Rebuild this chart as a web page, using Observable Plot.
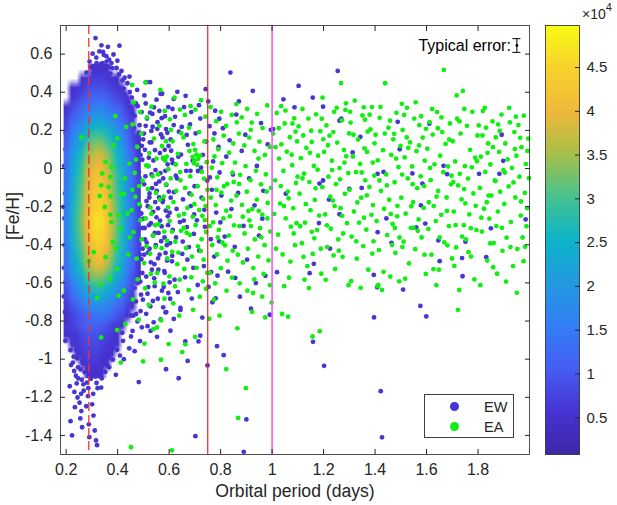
<!DOCTYPE html>
<html><head><meta charset="utf-8">
<script src="https://cdn.jsdelivr.net/npm/d3@7"></script>
<script src="https://cdn.jsdelivr.net/npm/@observablehq/plot@0.6"></script>
<style>
body{margin:0;background:#fff;}
#wrap{position:relative;width:617px;height:505px;font-family:"Liberation Sans",Arial,sans-serif;color:#262626;overflow:hidden;}
#wrap svg{position:absolute;top:0;}
.legend{position:absolute;left:424px;top:394px;width:90px;height:44px;border:1px solid #404040;background:#fff;box-sizing:border-box;}
.legend .row{position:absolute;left:0;height:20px;width:100%;}
.legend .mk{position:absolute;left:25px;top:5px;width:9px;height:9px;border-radius:50%;}
.legend .lb{position:absolute;left:59px;top:1px;font-size:14.5px;line-height:18px;}
.cbexp{position:absolute;left:582px;top:3px;font-size:14px;}
.cbexp sup{font-size:11px;position:relative;top:-2px;}
</style></head><body><div id="wrap"></div>
<script>
// ---- axes / ticks ----
const xTicks = [0.2,0.4,0.6,0.8,1,1.2,1.4,1.6,1.8];
const yTicks = [0.6,0.4,0.2,0,-0.2,-0.4,-0.6,-0.8,-1,-1.2,-1.4];
const cbTicks = [0.5,1,1.5,2,2.5,3,3.5,4,4.5];
const cbDomain = [0.08,4.98];           // density, x10^4
const xDomain = [0.178,2.0];
const yDomain = [-1.5,0.75];
// reference lines (days)
const dashedPeriod = [0.288];
const redPeriod = [0.75];
const magentaPeriod = [1.0];
// typical error bar
const errPeriod = [1.951];
const errFeH = [0.645];
const errLow = [0.609];
const errHigh = [0.681];
// legend
const legendLabels = ["EW","EA"];
const legendColors = ["#4636d2","#11ee11"];
// parula colormap stops
const parula = ["#3e26a8","#4733d3","#465ef2","#337ef6","#229ae0","#0db4ca","#45c38f","#a6bf4a","#f0b83a","#f7d22c","#f9fb15"];

// ---- dense EW core: density (x10^4) on a grid, period 0.19-0.49 (15 cols), [Fe/H] 0.55 to -1.1 (33 rows) ----
const _ = NaN;
const coreCols = 15, coreRows = 33;
const coreExtent = {x1:0.19, x2:0.49, y1:0.55, y2:-1.1};
const coreDensity = [
[_,_,_,_,_,.5,.5,.5,.5,_,_,_,_,_,_],
[_,_,_,.5,.6,.7,.7,.7,.6,.5,.5,_,_,_,_],
[_,.5,.6,.6,.8,.9,.9,.9,.8,.7,.6,.5,_,_,_],
[_,.6,.7,.9,1.0,1.2,1.2,1.2,1.1,.9,.8,.7,.5,_,_],
[.5,.8,1.0,1.2,1.4,1.5,1.6,1.6,1.4,1.2,1.1,.9,.6,.5,_],
[.7,1.0,1.2,1.4,1.7,1.9,2.0,1.9,1.8,1.6,1.3,1.1,.8,.6,_],
[.8,1.3,1.6,1.8,2.2,2.4,2.5,2.4,2.3,2.0,1.7,1.4,1.0,.7,_],
[1.0,1.5,1.9,2.2,2.6,2.9,3.0,2.9,2.7,2.3,2.0,1.7,1.2,.8,.5],
[1.1,1.7,2.1,2.4,3.0,3.3,3.4,3.3,3.1,2.7,2.2,1.9,1.3,.9,.5],
[1.3,1.9,2.4,2.7,3.3,3.6,3.8,3.7,3.4,3.0,2.5,2.2,1.5,1.1,.6],
[1.3,2.0,2.5,2.9,3.5,3.8,4.0,3.9,3.6,3.1,2.6,2.3,1.6,1.1,.6],
[1.4,2.1,2.6,3.0,3.7,4.0,4.2,4.1,3.8,3.3,2.8,2.4,1.7,1.2,.7],
[1.4,2.2,2.7,3.1,3.7,4.1,4.3,4.2,3.9,3.4,2.8,2.5,1.7,1.2,.7],
[1.5,2.2,2.7,3.2,3.8,4.2,4.4,4.3,4.0,3.4,2.9,2.5,1.8,1.2,.7],
[1.5,2.3,2.8,3.2,3.9,4.3,4.5,4.4,4.1,3.5,3.0,2.6,1.8,1.3,.7],
[1.5,2.3,2.9,3.3,4.0,4.4,4.6,4.5,4.1,3.6,3.0,2.6,1.8,1.3,.7],
[1.6,2.4,2.9,3.4,4.1,4.5,4.7,4.6,4.2,3.7,3.1,2.7,1.9,1.3,.8],
[1.5,2.3,2.9,3.3,4.0,4.4,4.6,4.5,4.1,3.6,3.0,2.6,1.8,1.3,.7],
[1.5,2.3,2.8,3.2,3.9,4.3,4.5,4.4,4.1,3.5,3.0,2.6,1.8,1.3,.7],
[1.4,2.2,2.7,3.1,3.7,4.1,4.3,4.2,3.9,3.4,2.8,2.5,1.7,1.2,.7],
[1.4,2.1,2.5,3.0,3.6,3.9,4.1,4.0,3.7,3.2,2.7,2.3,1.6,1.2,.6],
[1.3,1.9,2.4,2.7,3.3,3.6,3.8,3.7,3.4,3.0,2.5,2.2,1.5,1.1,.6],
[1.1,1.7,2.0,2.4,2.9,3.2,3.3,3.2,3.0,2.6,2.2,1.9,1.3,.9,.5],
[.9,1.4,1.7,2.0,2.4,2.7,2.8,2.7,2.5,2.2,1.8,1.6,1.1,.8,_],
[.8,1.2,1.4,1.7,2.0,2.2,2.3,2.2,2.1,1.8,1.5,1.3,.9,.6,_],
[.6,.9,1.1,1.3,1.6,1.7,1.8,1.7,1.6,1.4,1.2,1.0,.7,.5,_],
[.5,.7,.9,1.0,1.2,1.3,1.4,1.4,1.3,1.1,.9,.8,.5,_,_],
[.6,.7,.8,1.0,1.1,1.1,1.1,1.0,.9,.7,.6,.5,_,_,_],
[.5,.6,.6,.8,.9,.9,.9,.8,.7,.6,.5,_,_,_,_],
[_,.5,.6,.7,.8,.8,.8,.7,.6,.5,.5,_,_,_,_],
[_,_,.5,.6,.7,.7,.7,.6,.5,.5,_,_,_,_,_],
[_,_,_,.5,.6,.6,.6,.5,.5,_,_,_,_,_,_],
[_,_,_,_,.5,.5,.5,.5,_,_,_,_,_,_,_]
];

// ---- EW (scattered, low density) [period, FeH] ----
const ewPoints = [
[.190,-.202],[.197,.100],[.210,.149],[.197,-.597],[.197,-.904],[.217,-.953],[.204,-.451],[.201,-.312],[.208,-.052],[.213,.038],
[.199,-.703],[.206,-.805],[.221,-.221],[.215,-.638],[.194,-.402],[.223,.082],[.209,-.524],[.218,-.872],[.226,-1.018],[.211,-.758],
[.193,-.262],[.196,-.131],[.191,-.521],[.195,-.753],[.192,.013],[.198,.187],[.203,-.847],[.191,-.671],
[.223,-1.400],[.217,-1.325],[.232,-1.172],[.252,-1.228],[.259,-1.272],[.281,-1.123],[.301,-1.237],[.288,-1.342],[.311,-1.374],[.316,-1.426],
[.320,-1.451],[.290,-1.409],[.336,-1.149],[.333,-1.053],[.246,-1.043],[.238,-1.087],[.263,-1.012],[.272,-1.068],[.244,-1.201],[.255,-1.311],
[.268,-1.165],[.283,-1.052],[.296,-1.103],[.311,-1.004],[.326,-1.082],[.305,-1.182],[.278,-1.247],[.262,-1.357],[.234,-1.252],[.229,-.987],
[.252,-.962],[.274,-.983],[.299,-.961],[.318,-1.125],[.347,-1.021],[.214,-1.142],[.261,-1.108],[.285,-1.194],[.241,-1.127],[.306,-1.296],
[.231,-1.062],[.247,-1.101],[.256,-1.054],[.267,-1.132],[.276,-1.021],[.289,-1.071],[.302,-1.048],[.314,-1.091],[.329,-1.012],[.338,-1.101],
[.352,-1.067],[.367,-1.043],[.381,-1.002],[.393,-1.082],[.219,-1.031],[.286,-1.152],[.258,-1.182],[.322,-1.152],[.409,-.981],[.243,-.996],
[.227,-.912],[.243,-.861],[.258,-.934],[.266,-.885],[.281,-.947],[.294,-.902],[.309,-.935],[.323,-.883],[.337,-.954],[.352,-.912],
[.367,-.988],[.381,-.942],[.398,-.951],[.421,-.904],[.424,-1.000],[.362,-.853],[.378,-.803],[.393,-.872],[.408,-.821],[.372,-.751],
[.389,-.702],[.402,-.768],[.417,-.733],[.236,-.822],[.248,-.773],[.239,-.951],[.273,-.976],[.346,-.973],[.359,-1.031],[.343,-.842],
[.226,.227],[.233,.163],[.219,.121],[.243,.247],[.229,-.116],[.231,-.367],[.224,-.553],[.237,-.691],
[.245,.324],[.314,.684],[.329,.614],[.346,.596],[.407,.644],[.318,.553],[.294,.470],[.399,.565],[.380,.526],[.338,.492],
[.352,.507],[.362,.478],[.331,.458],[.347,.442],[.371,.453],[.324,.431],[.309,.498],[.289,.412],[.276,.362],[.262,.388],
[.283,.302],[.268,.289],[.301,.452],[.356,.418],[.379,.402],[.392,.436],[.411,.381],[.423,.417],[.437,.353],[.448,.322],
[.402,.332],[.388,.307],[.419,.292],[.436,.268],[.447,.401],[.391,.471],[.366,.532],[.341,.552],[.357,.561],[.372,.498],
[.258,.252],[.251,.203],[.298,.348],[.313,.396],[.336,.371],[.384,.353],[.419,.462],[.296,.532],[.286,.455],[.324,.348],
[.268,.452],[.279,.503],[.291,.561],[.303,.602],[.317,.582],[.327,.521],[.334,.547],[.343,.612],[.356,.589],[.367,.571],
[.376,.553],[.384,.598],[.396,.527],[.405,.493],[.415,.512],[.427,.476],[.438,.447],[.446,.482],[.337,.646],[.362,.638],
[.402,.214],[.406,-.053],[.409,-.387],[.413,.128],[.416,-.612],[.419,-.174],[.423,.302],[.426,-.455],[.429,.036],[.432,-.283],
[.435,-.731],[.438,.187],[.441,-.098],[.444,-.546],[.447,.253],[.451,-.224],[.453,-.671],[.456,.071],[.459,-.366],[.462,.163],
[.465,-.023],[.468,-.508],[.471,.341],[.474,-.142],[.477,-.802],[.479,.011],[.482,-.317],[.485,.227],[.488,-.593],[.491,-.067],
[.494,.119],[.497,-.421],[.499,-.263],[.404,-.511],[.411,.402],[.418,-.862],[.427,-.191],[.434,.084],[.443,-.392],[.452,-.881],
[.458,.292],[.466,-.627],[.473,-.351],[.481,.152],[.489,-.748],[.496,.046],[.407,-.262],[.415,.045],[.422,-.317],[.431,-.627],
[.439,.352],[.448,-.152],[.457,-.451],[.464,.214],[.472,-.052],[.478,-.573],[.486,-.197],[.493,.296],[.498,-.688],[.445,-.943],
[.461,-.772],[.476,.412],[.487,-.905],[.401,-.143],[.412,-.448],[.425,-.521],[.436,-.331],[.449,-.054],[.463,-.287],[.475,.102],
[.484,-.398],[.492,-.476],[.466,-.958],[.428,.389],[.455,.372],[.482,-.017],[.494,-.833],[.421,-.702],[.446,.138],[.469,-.412],
[.443,.012],[.447,-.283],[.452,.118],[.455,-.512],[.458,-.061],[.462,-.197],[.466,.276],[.469,-.338],[.473,.043],[.476,-.601],
[.479,-.124],[.483,.187],[.486,-.452],[.489,.071],[.492,-.236],[.496,-.548],[.499,.153],[.503,-.083],[.506,-.372],[.509,.224],
[.512,-.171],[.516,-.657],[.519,.012],[.522,-.297],[.525,.137],[.529,-.492],[.532,-.031],[.535,.286],[.538,-.227],[.542,-.576],
[.545,.096],[.548,-.402],[.552,-.117],[.555,.243],[.558,-.531],[.562,-.068],[.565,-.273],[.568,.179],[.572,-.641],[.575,-.176],
[.578,.052],[.582,-.362],[.585,-.012],[.588,.207],[.592,-.483],[.595,-.251],[.598,.118],[.602,-.597],[.606,-.153],[.611,.047],
[.614,-.322],[.618,.228],[.447,-.617],[.451,-.771],[.459,.198],[.464,-.412],[.471,-.697],[.478,.327],[.484,-.046],[.491,-.662],
[.497,-.312],[.504,.383],[.511,-.762],[.518,-.441],[.524,-.131],[.531,.197],[.537,-.695],[.544,-.338],[.551,.361],[.557,-.209],
[.563,-.452],[.571,.264],[.577,-.728],[.583,-.547],[.589,-.086],[.597,.322],[.604,-.683],[.612,-.458],[.458,-.852],[.528,-.852],
[.502,.183],[.505,-.312],[.508,-.041],[.511,-.567],[.514,.262],[.517,-.198],[.521,.057],[.524,-.421],[.527,-.723],[.531,.137],
[.534,-.103],[.537,-.352],[.541,.321],[.544,-.617],[.547,-.008],[.551,-.256],[.554,.208],[.557,-.471],[.561,-.152],[.564,.081],
[.567,-.792],[.571,-.304],[.574,.163],[.577,-.052],[.581,-.538],[.584,.274],[.587,-.221],[.591,-.402],[.594,.022],[.597,-.653],
[.503,-.452],[.509,.341],[.516,-.827],[.523,-.152],[.529,-.287],[.536,.219],[.543,-.502],[.549,-.081],[.556,-.683],[.562,.302],
[.569,-.381],[.576,-.167],[.583,.098],[.589,-.753],[.596,-.297],[.506,.098],[.513,-.389],[.519,-.622],[.526,.293],[.533,-.531],
[.539,.042],[.546,-.176],[.553,-.883],[.559,-.338],[.566,-.024],[.573,.392],[.579,-.621],[.586,-.443],[.593,.187],[.599,-.121],
[.540,-.807],[.586,-.755],[.618,-.789],[.605,-.851],[.588,-1.053],[.526,.453],[.567,.391],[.511,.453],[.482,-1.120],[.472,-.763],
[.602,-.232],[.606,.152],[.611,-.487],[.614,.028],[.619,-.124],[.623,.271],[.627,-.362],[.631,-.052],[.634,-.648],[.638,.193],
[.642,-.281],[.646,.073],[.651,-.448],[.654,-.162],[.658,.322],[.662,-.571],[.666,-.012],[.669,-.307],[.673,.124],[.677,-.412],
[.681,.231],[.684,-.197],[.688,-.682],[.692,.042],[.696,-.343],[.699,-.093],[.604,-.391],[.613,.312],[.621,-.583],[.629,-.212],
[.636,.061],[.644,-.731],[.649,.218],[.657,-.273],[.664,.381],[.671,-.478],[.679,-.131],[.686,.296],[.694,-.521],[.618,.365],
[.644,-.742],[.663,-.907],[.672,-1.009],[.637,-1.100],[.714,-.907],[.721,-.877],[.702,-1.404],[.608,.093],[.626,-.038],
[.653,-.383],[.668,.176],[.683,-.012],[.697,-.241],[.632,.402],
[.703,.184],[.708,-.272],[.712,-.013],[.717,-.431],[.721,.262],[.726,-.153],[.731,.071],[.735,-.512],[.739,-.306],[.744,.141],
[.748,-.063],[.753,-.621],[.757,.222],[.762,-.371],[.766,-.112],[.771,.037],[.775,-.462],[.779,.303],[.783,-.231],[.788,-.562],
[.792,.113],[.796,-.021],[.742,.416],[.749,-1.033],[.786,-.932],[.812,-.979],[.729,-.782],[.768,-.702],[.794,-.382],[.716,.332],
[.737,-.217],[.758,-.047],[.776,.184],[.799,-.283],[.711,-.611],[.752,.352],[.781,-.681],[.724,.004],[.763,-.543],[.795,.261],
[.803,-.142],[.809,.211],[.816,-.357],[.822,.062],[.829,-.541],[.835,.148],[.842,-.213],[.838,.503],[.848,-.032],[.855,-.411],
[.861,.283],[.868,-.128],[.875,-.672],[.882,.092],[.889,-.301],[.896,.177],[.903,-.478],[.911,-.052],[.918,-.735],[.925,.407],
[.932,-.193],[.941,.013],[.949,-.352],[.957,.238],[.966,-.117],[.974,-.563],[.983,.127],[.991,-.767],[.857,-.574],[.900,-1.316],
[.890,-1.486],[.995,.203],[.871,.352],[.937,-.601],[.962,-.263],
[1.044,.363],[1.103,.433],[1.087,.321],[1.019,-.544],[1.255,.512],[1.158,.372],[1.198,.324],[1.269,.261],[1.262,.251],[1.343,.166],
[1.488,.245],[1.611,.235],[1.892,.177],[1.313,.084],[1.496,.101],[1.898,.040],[1.666,.014],[1.680,-.030],[1.410,-.028],[1.433,-.018],
[1.545,-.026],[1.584,-.079],[1.804,-.028],[1.883,-.028],[1.198,-.063],[1.184,-.079],[1.348,-.102],[1.300,-.107],[1.221,-.163],[1.578,-.193],
[1.182,-.286],[1.262,-.240],[1.444,-.262],[1.595,-.289],[1.560,-.309],[1.410,-.334],[1.464,-.390],[1.646,-.377],[1.751,-.384],[1.985,-.267],
[1.738,-.470],[1.832,-.465],[1.225,-.420],[1.850,-.314],[1.162,-.500],[1.146,-.549],[1.395,-.558],[1.408,-.623],[1.509,-.635],[1.651,-.486],
[1.740,-.565],[1.576,-.721],[1.599,-.776],[1.396,-.781],[1.159,-.909],[1.202,-1.035],[1.422,-1.168],[1.427,-1.410],[1.004,.207],[1.053,-.132]
];

// ---- EA [period, FeH] ----
const eaPoints = [
[.259,.163],[.391,.275],[.398,.158],[.385,.123],[.353,.035],[.376,.008],[.446,.026],[.340,-.026],[.372,-.044],[.336,-.088],
[.365,-.097],[.330,-.144],[.424,-.132],[.372,-.146],[.417,-.135],[.350,-.202],[.372,-.242],[.376,-.281],[.404,-.246],[.411,-.316],
[.381,-.386],[.307,-.439],[.353,-.465],[.288,-.486],[.398,-.526],[.372,-.579],[.333,-.609],[.424,-.641],[.320,-.679],[.404,-.667],
[.398,-.847],[.430,-.816],[.336,-.886],[.412,-1.018],[.433,.218],[.441,-.452],[.447,-.361],[.393,-.419],[.428,-.052],[.438,-.236],
[.456,.438],[.508,.451],[.458,.231],[.476,.114],[.469,-.149],[.504,-.918],[.452,-1.462],[.499,-1.012],[.463,.347],[.487,.296],
[.492,.183],[.514,.268],[.531,.324],[.471,.047],[.523,.081],[.541,.157],[.466,-.023],[.497,-.064],[.518,-.107],[.536,-.041],
[.454,-.218],[.484,-.187],[.509,-.262],[.527,-.205],[.546,-.297],[.461,-.334],[.493,-.372],[.512,-.408],[.538,-.351],[.474,-.473],
[.503,-.496],[.529,-.553],[.478,-.581],[.507,-.628],[.544,-.598],[.459,-.687],[.521,-.716],[.482,-.793],[.539,-.842],[.511,.016],
[.549,-.128],[.457,-.112],[.526,-.447],[.489,-.271],[.551,.052],
[.483,-.092],[.517,.012],[.547,-.412],[.579,-.148],[.611,-.331],[.644,-.062],[.668,-.337],[.698,-.187],[.729,-.248],[.758,-.302],
[.784,-.112],[.817,-.403],[.851,-.071],[.886,-.253],[.918,-.302],[.948,-.222],[.979,-.121],[.701,.098],[.588,.143],[.531,-.238],
[.566,.412],[.553,-.834],[.611,-1.478],[.562,.224],[.583,.302],[.603,.258],[.621,.371],[.642,.309],[.572,.118],[.591,.062],
[.585,.041],[.597,-.004],[.576,.057],[.613,.143],[.634,.077],[.647,.186],[.557,-.031],[.588,-.083],[.606,-.052],[.627,-.118],
[.643,-.019],[.564,-.163],[.596,-.204],[.617,-.176],[.638,-.247],[.559,-.292],[.581,-.331],[.602,-.276],[.624,-.384],[.646,-.327],
[.571,-.418],[.593,-.472],[.612,-.437],[.632,-.502],[.554,-.548],[.578,-.604],[.601,-.566],[.623,-.618],[.641,-.583],[.582,-.683],
[.616,-.707],[.569,-.796],[.639,-.772],[.598,-.921],[.651,-.963],[.568,-1.003],[.626,.021],[.592,-.379],[.636,-.441],[.607,.203],
[.661,.281],[.683,.327],[.702,.309],[.724,.358],[.741,.272],[.656,.163],[.677,.214],[.694,.128],[.716,.191],[.737,.142],
[.691,.061],[.699,.043],[.706,.072],[.713,.051],[.696,.028],[.721,.068],[.709,.019],[.667,.024],[.682,-.041],[.727,-.018],
[.746,.033],[.662,-.102],[.687,-.138],[.711,-.093],[.732,-.161],[.749,-.112],[.671,-.207],[.692,-.253],[.717,-.218],[.739,-.271],
[.657,-.312],[.681,-.348],[.703,-.297],[.726,-.371],[.744,-.333],[.666,-.417],[.689,-.462],[.712,-.408],[.734,-.478],[.659,-.527],
[.686,-.571],[.707,-.521],[.731,-.592],[.748,-.548],[.676,-.638],[.719,-.672],[.743,-.631],[.693,-.741],[.701,-.883],[.663,-.922],
[.736,-.053],[.679,.092],[.723,-.433],[.658,-.238],[.742,-.197],
[.761,.322],[.783,.248],[.802,.297],[.821,.223],[.843,.281],[.772,.152],[.791,.101],[.812,.172],[.833,.083],[.849,.131],
[.766,.004],[.787,-.047],[.806,.028],[.826,-.081],[.846,-.022],[.762,-.153],[.781,-.192],[.803,-.127],[.822,-.221],[.841,-.168],
[.771,-.283],[.793,-.322],[.811,-.262],[.832,-.352],[.852,-.298],[.767,-.402],[.786,-.451],[.807,-.388],[.827,-.483],[.847,-.431],
[.758,-.547],[.779,-.602],[.801,-.523],[.823,-.641],[.844,-.572],[.774,-.688],[.796,-.772],[.756,-.788],[.822,-1.052],[.868,-1.308],
[.865,-.838],[.789,-.362],[.813,-.093],[.776,.063],[.836,-.251],
[.861,.338],[.882,.268],[.903,.312],[.921,.241],[.942,.287],[.963,.212],[.981,.331],[.871,.183],[.892,.121],[.911,.162],
[.932,.092],[.951,.141],[.972,.071],[.991,.113],[.856,.031],[.876,-.033],[.897,.012],[.916,-.061],[.937,-.012],[.957,-.083],
[.976,-.031],[.996,-.102],[.862,-.142],[.883,-.191],[.902,-.122],[.923,-.213],[.941,-.163],[.962,-.242],[.983,-.181],[.873,-.302],
[.893,-.341],[.912,-.272],[.933,-.372],[.953,-.313],[.971,-.402],[.993,-.331],[.867,-.452],[.887,-.493],[.906,-.421],[.927,-.522],
[.946,-.462],[.967,-.553],[.986,-.482],[.874,-.602],[.904,-.641],[.931,-.582],[.961,-.672],[.992,-.612],[.922,-.752],[.898,-1.152],
[.973,-.781],[.917,.203],[.947,.052],[.982,-.262],[.908,-.223],[.958,-.361],[.872,-.081],[.926,-.653],[.998,-.703],[.863,.242],
[1.004,.183],[1.012,-.062],[1.018,.291],[1.023,-.347],[1.027,.052],[1.031,-.184],[1.036,.127],[1.041,-.451],[1.044,-.013],[1.049,.236],
[1.053,-.262],[1.057,.088],[1.061,-.121],[1.066,-.573],[1.069,.164],[1.073,-.305],[1.078,.017],[1.082,-.208],[1.086,.263],[1.089,-.402],
[1.093,-.076],[1.097,.142],[1.008,-.238],[1.015,-.421],[1.026,.211],[1.034,-.092],[1.047,-.617],[1.052,.304],[1.064,-.156],[1.071,-.488],
[1.076,.072],[1.084,-.341],[1.091,.193],[1.099,-.043],[1.039,-.763],[1.062,-.777],
[1.103,.221],[1.107,-.132],[1.112,.054],[1.116,-.392],[1.121,.173],[1.124,-.027],[1.128,-.284],[1.133,.108],[1.137,-.512],[1.141,.262],
[1.145,-.071],[1.149,-.219],[1.154,.139],[1.158,-.448],[1.162,.013],[1.166,-.165],[1.171,.284],[1.175,-.323],[1.179,.067],[1.183,-.247],
[1.187,.196],[1.191,-.552],[1.195,-.098],[1.199,.153],[1.109,-.303],[1.118,.312],[1.131,-.187],[1.143,-.627],[1.152,.198],[1.164,-.366],
[1.177,-.006],[1.189,-.421],[1.157,-.881],[1.185,-.853],[1.196,.372],[1.126,-.583],
[1.202,.087],[1.206,-.241],[1.211,.226],[1.214,-.412],[1.219,-.043],[1.223,.172],[1.228,-.316],[1.232,.041],[1.236,-.168],[1.241,.297],
[1.245,-.527],[1.248,-.082],[1.253,.136],[1.257,-.372],[1.262,.002],[1.266,-.208],[1.271,.253],[1.274,-.463],[1.279,.097],[1.283,-.133],
[1.287,.342],[1.291,-.287],[1.296,-.024],[1.299,.184],[1.208,-.584],[1.217,.122],[1.226,-.147],[1.239,-.456],[1.251,.318],[1.264,-.057],
[1.276,-.341],[1.288,.064],[1.297,-.612],[1.243,-.197],[1.268,.448],[1.285,.307],
[1.301,-.112],[1.305,.241],[1.309,-.357],[1.314,.063],[1.318,-.226],[1.321,.356],[1.326,-.019],[1.329,-.473],[1.334,.152],[1.338,-.284],
[1.342,.024],[1.346,-.153],[1.351,.278],[1.354,-.407],[1.359,.106],[1.362,-.062],[1.366,-.321],[1.371,.193],[1.374,-.531],[1.378,-.097],
[1.382,.205],[1.386,-.243],[1.391,.031],[1.394,-.382],[1.398,.132],[1.307,-.591],[1.316,.177],[1.331,-.178],[1.344,-.626],[1.356,.321],
[1.368,-.141],[1.379,.282],[1.389,-.446],[1.397,-.037],[1.361,.256],
[1.402,.177],[1.406,-.276],[1.411,.043],[1.415,-.428],[1.418,.266],[1.423,-.118],[1.427,-.637],[1.431,.096],[1.435,-.212],[1.439,.447],
[1.443,-.031],[1.447,-.349],[1.452,.214],[1.455,-.164],[1.459,-.567],[1.463,.071],[1.468,-.291],[1.471,.153],[1.476,-.072],[1.479,-.443],
[1.483,.292],[1.487,-.196],[1.491,.007],[1.495,-.362],[1.499,.118],[1.409,-.617],[1.421,.323],[1.433,-.542],[1.446,-.089],[1.458,.251],
[1.466,-.401],[1.474,.182],[1.486,-.251],[1.494,-.592],[1.413,-.611],
[1.502,-.153],[1.507,.202],[1.511,-.384],[1.515,.058],[1.519,-.237],[1.524,.318],[1.527,-.052],[1.532,-.498],[1.536,.137],[1.539,-.311],
[1.544,.011],[1.548,-.176],[1.552,.262],[1.556,-.423],[1.561,.091],[1.564,-.103],[1.569,-.267],[1.572,.227],[1.577,-.041],[1.581,-.362],
[1.585,.162],[1.589,-.207],[1.593,.041],[1.597,-.553],[1.504,.339],[1.517,-.578],[1.529,.108],[1.541,-.198],[1.558,.347],[1.566,-.327],
[1.579,.274],[1.591,-.092],[1.546,-.082],[1.513,.281],
[1.603,.104],[1.607,-.317],[1.612,.243],[1.616,-.061],[1.619,-.452],[1.624,.178],[1.628,-.197],[1.631,.022],[1.636,-.276],[1.641,.296],
[1.645,-.118],[1.648,-.531],[1.653,.067],[1.657,-.243],[1.661,.191],[1.665,-.019],[1.669,-.387],[1.674,.129],[1.678,-.152],[1.683,.011],
[1.687,-.302],[1.691,.236],[1.695,-.083],[1.699,-.472],[1.609,-.177],[1.622,.312],[1.638,-.612],[1.651,-.362],[1.667,.517],[1.679,-.223],
[1.688,.152],[1.644,.211],[1.697,-.038],
[1.702,.143],[1.706,-.226],[1.711,.037],[1.715,-.414],[1.719,.261],[1.723,-.089],[1.727,-.637],[1.732,.183],[1.736,-.162],[1.741,.407],
[1.745,-.297],[1.749,.012],[1.753,-.372],[1.757,.224],[1.761,-.053],[1.766,-.241],[1.769,.098],[1.773,-.462],[1.778,.297],[1.782,-.131],
[1.786,-.582],[1.789,.057],[1.794,-.323],[1.798,.173],[1.708,-.511],[1.717,.383],[1.729,-.028],[1.738,-.357],[1.747,.312],[1.763,-.439],
[1.776,.006],[1.791,-.196],[1.722,-.741],
[1.803,.226],[1.807,-.102],[1.811,.062],[1.815,-.331],[1.819,.301],[1.823,-.211],[1.828,-.018],[1.831,.214],[1.836,-.483],[1.839,.131],
[1.844,-.263],[1.848,.021],[1.852,-.142],[1.856,.247],[1.861,-.391],[1.865,-.063],[1.869,.163],[1.874,-.552],[1.877,-.226],[1.882,.087],
[1.886,-.122],[1.891,.283],[1.895,-.432],[1.899,-.009],[1.809,-.612],[1.817,.173],[1.834,-.177],[1.847,-.393],[1.858,.112],[1.871,-.302],
[1.884,.197],[1.893,-.311],[1.826,.318],
[1.902,-.186],[1.906,.131],[1.911,-.363],[1.915,.048],[1.919,-.094],[1.924,.242],[1.928,-.281],[1.932,.003],[1.936,-.512],[1.941,.191],
[1.945,-.152],[1.949,.067],[1.953,-.422],[1.957,.228],[1.961,-.043],[1.966,-.247],[1.969,.112],[1.973,-.362],[1.978,.277],[1.982,-.128],
[1.986,.023],[1.991,-.208],[1.995,.157],[1.998,-.051],[1.909,-.593],[1.921,.318],[1.938,-.073],[1.951,-.652],[1.964,.161],[1.977,-.486],
[1.988,-.303],[1.943,.102],
[1.013,.112],[1.046,-.197],[1.079,.236],[1.095,-.287],[1.122,-.463],[1.147,.082],[1.169,-.104],[1.193,.261],[1.213,-.298],[1.238,.191],
[1.259,-.431],[1.281,.031],[1.303,.297],[1.327,-.382],[1.348,-.021],[1.369,.087],[1.392,-.192],[1.417,-.063],[1.438,.183],[1.461,-.238],
[1.482,.052],[1.506,-.412],[1.523,.163],[1.549,-.311],[1.571,.121],[1.592,-.452],[1.614,.003],[1.639,-.147],[1.658,.268],[1.681,-.403],
[1.704,-.071],[1.728,.247],[1.751,-.183],[1.772,-.313],[1.796,.038],[1.813,-.258],[1.837,.082],[1.859,-.518],[1.878,.231],[1.904,-.021],
[1.926,-.412],[1.947,.272],[1.967,-.173],[1.992,.092],[1.035,.327],[1.154,-.332],[1.272,-.248],[1.388,.322],[1.505,-.032],[1.627,-.528],
[1.746,-.108],[1.868,-.066],[1.983,-.411],[1.118,-.052],[1.233,-.008],[1.357,-.258],[1.477,-.312],[1.598,.208],[1.713,-.297],[1.841,-.142]
];

// ---------------- drawing ----------------
const FONT = "'Liberation Sans', Arial, Helvetica, sans-serif";
const INK = "#262626";
const fmt = d => String(d);
const colorOpt = {type: "linear", domain: cbDomain, interpolate: d3.piecewise(d3.interpolateRgb, parula)};
const errBar = errPeriod.map((p, i) => ({p, fe: errFeH[i], lo: errLow[i], hi: errHigh[i]}));

const main = Plot.plot({
  width: 617, height: 505,
  marginTop: 25, marginRight: 88, marginBottom: 51, marginLeft: 60,
  style: {fontFamily: FONT, fontSize: "16px", color: INK, background: "white"},
  x: {domain: xDomain, label: null},
  y: {domain: yDomain, label: null},
  color: colorOpt,
  marks: [
    Plot.dot(ewPoints, {x: d => d[0], y: d => d[1], r: 2.4, fill: legendColors[0], stroke: null}),
    Plot.raster(coreDensity.flat(), {width: coreCols, height: coreRows, ...coreExtent, fill: d => d, imageRendering: "auto"}),
    Plot.dot(eaPoints, {x: d => d[0], y: d => d[1], r: 2.4, fill: legendColors[1], stroke: null}),
    Plot.ruleX(dashedPeriod, {stroke: "#ff2b2b", strokeWidth: 1.3, strokeDasharray: "9,4"}),
    Plot.ruleX(redPeriod, {stroke: "#f22020", strokeWidth: 1.2}),
    Plot.ruleX(magentaPeriod, {stroke: "#f25cf2", strokeWidth: 1.6}),
    Plot.ruleX(errBar, {x: "p", y1: "lo", y2: "hi", stroke: "#000", strokeWidth: 1}),
    Plot.ruleY(errBar, {y: "lo", x1: "p", x2: "p", insetLeft: -4, insetRight: -4, stroke: "#000", strokeWidth: 1}),
    Plot.ruleY(errBar, {y: "hi", x1: "p", x2: "p", insetLeft: -4, insetRight: -4, stroke: "#000", strokeWidth: 1}),
    Plot.dot(errBar, {x: "p", y: "fe", r: 1.4, fill: "#000"}),
    Plot.text(errBar, {x: "p", y: "fe", text: () => "Typical error:", textAnchor: "end", dx: -6, fontSize: 16, fill: "#000"}),
    Plot.frame({stroke: INK, strokeWidth: 0.8}),
    Plot.axisX({anchor: "bottom", ticks: xTicks, tickSize: -5, tickPadding: 14, tickFormat: fmt, label: null, stroke: INK}),
    Plot.axisX({anchor: "top", ticks: xTicks, tickSize: -5, tickFormat: () => "", label: null, stroke: INK}),
    Plot.axisY({anchor: "left", ticks: yTicks, tickSize: -5, tickPadding: 13, tickFormat: fmt, label: null, stroke: INK}),
    Plot.axisY({anchor: "right", ticks: yTicks, tickSize: -5, tickFormat: () => "", label: null, stroke: INK}),
    Plot.text(["Orbital period (days)"], {frameAnchor: "bottom", dy: 37, fontSize: 17.6, lineAnchor: "middle", text: d => d}),
    Plot.text(["[Fe/H]"], {frameAnchor: "left", dx: -47, rotate: -90, fontSize: 17.6, lineAnchor: "middle", text: d => d})
  ]
});

const cb = Plot.plot({
  width: 87, height: 505,
  marginTop: 25, marginBottom: 51, marginLeft: 15, marginRight: 38,
  style: {fontFamily: FONT, fontSize: "15px", color: INK, background: "transparent"},
  x: {domain: [0, 1], axis: null},
  y: {domain: cbDomain, label: null, axis: null},
  color: colorOpt,
  marks: [
    Plot.raster({x1: 0, x2: 1, y1: cbDomain[0], y2: cbDomain[1], fill: (x, y) => y, pixelSize: 1}),
    Plot.frame({stroke: INK, strokeWidth: 0.8}),
    Plot.axisY({anchor: "right", ticks: cbTicks, tickSize: -5, tickPadding: 12, tickFormat: fmt, label: null, stroke: INK})
  ]
});

const wrap = document.getElementById("wrap");
main.style.left = "0px";
cb.style.left = "530px";
wrap.appendChild(main);
wrap.appendChild(cb);

const exp = document.createElement("div");
exp.className = "cbexp";
exp.innerHTML = "&times;10<sup>4</sup>";
wrap.appendChild(exp);

const leg = document.createElement("div");
leg.className = "legend";
legendLabels.forEach((lab, i) => {
  const row = document.createElement("div");
  row.className = "row";
  row.style.top = (2 + i * 20) + "px";
  row.innerHTML = `<span class="mk" style="background:${legendColors[i]}"></span><span class="lb">${lab}</span>`;
  leg.appendChild(row);
});
wrap.appendChild(leg);
</script>
</body></html>
